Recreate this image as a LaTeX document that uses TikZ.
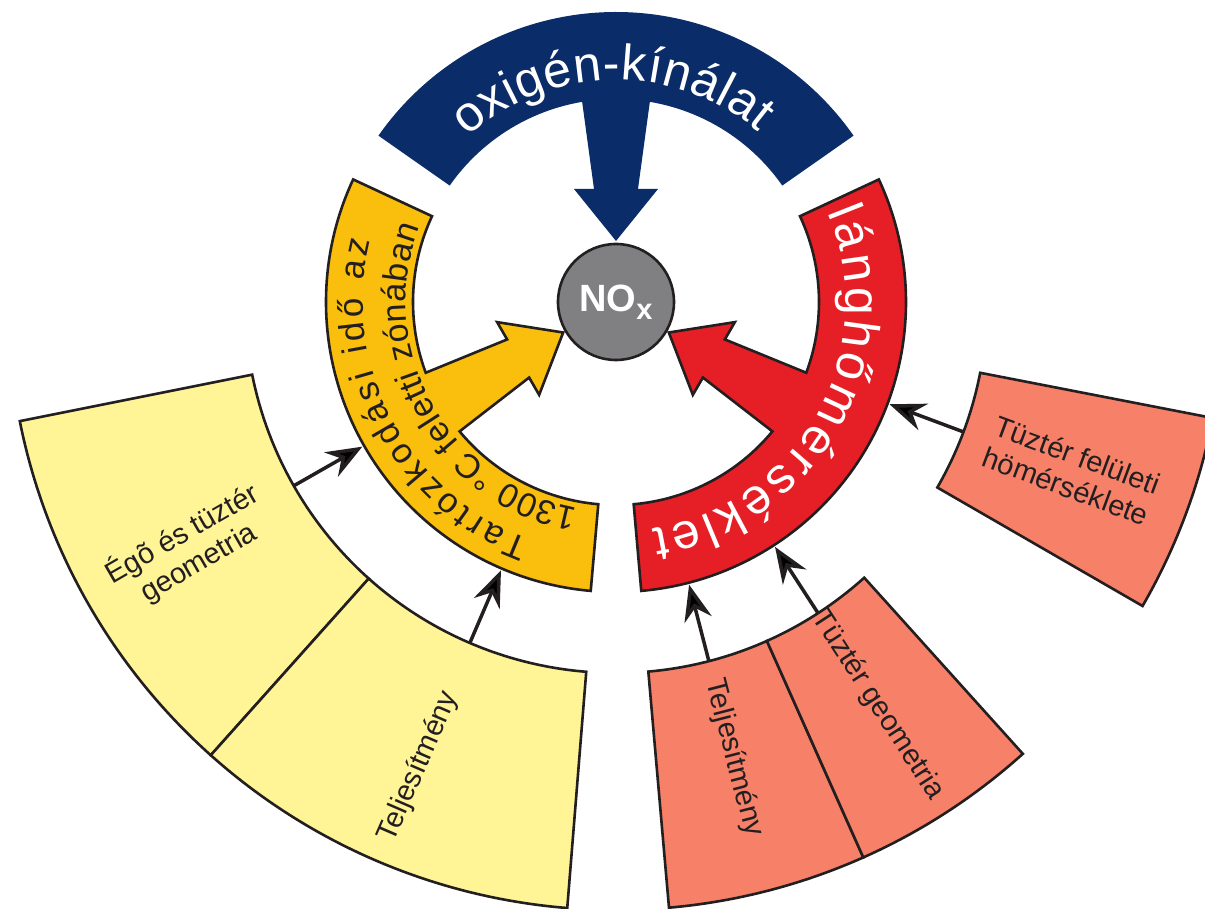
\documentclass[tikz,border=0pt]{standalone}
\usepackage{fontspec}
\setmainfont{Liberation Sans}
\usetikzlibrary{decorations.text,arrows.meta}
\definecolor{navyc}{RGB}{10,44,104}
\definecolor{goldc}{RGB}{250,190,12}
\definecolor{redc}{RGB}{230,30,37}
\definecolor{paley}{RGB}{255,245,150}
\definecolor{salmonc}{RGB}{246,128,104}
\definecolor{grayc}{RGB}{128,128,131}
\definecolor{linec}{RGB}{35,31,32}
\tikzset{
  arcarrow/.pic={
    \path[pic actions] (-55:290) arc[start angle=-55,end angle=55,radius=290]
      -- (55:203) arc[start angle=55,end angle=9.6,radius=203]
      -- (113,22) -- (113,42) -- (61,0) -- (113,-42) -- (113,-22)
      -- (-9.6:203) arc[start angle=-9.6,end angle=-55,radius=203] -- cycle;
  },
  outl/.style={draw=linec, line width=2.6pt, line join=miter},
  boxtxt/.style={font=\fontsize{29}{33}\selectfont, align=center, text=linec, inner sep=0pt},
  thinarrow/.style={draw=linec, line width=3.5pt,
    -{Stealth[length=36pt,width=28pt,inset=12pt]}},
}
\newcommand\annsec[3]{%
  \path[#3] (#1:371) arc[start angle=#1,end angle=#2,radius=371]
    -- (#2:608) arc[start angle=#2,end angle=#1,radius=608] -- cycle;}
\begin{document}
\begin{tikzpicture}[x=1pt,y=1pt]
\fill[white] (-616,-607) rectangle (589,302);
\useasboundingbox (-616,-607) rectangle (589,302);

% outer sectors
\annsec{191.3}{228.2}{fill=paley, outl}
\annsec{228.2}{265.4}{fill=paley, outl}
\annsec{-85}{-66}{fill=salmonc, outl}
\annsec{-66}{-48}{fill=salmonc, outl}
\annsec{-30}{-11}{fill=salmonc, outl}

% inner arc-arrows
\pic[rotate=90, fill=navyc] {arcarrow};
\pic[rotate=210, fill=goldc, outl] {arcarrow};
\pic[rotate=-30, fill=redc, outl] {arcarrow};

% NOx
\node[circle, fill=grayc, draw=linec, line width=2.6pt, minimum size=116pt,
      inner sep=0pt, text=white] (nox) at (0,0)
  {\bfseries\fontsize{38}{38}\selectfont NO\raisebox{-8pt}{\fontsize{29}{29}\selectfont x}};

% curved labels
\path[decorate, decoration={text along path, text align={fit to path}, text color=white,
  text={|\fontsize{50}{50}\selectfont|oxigén-kínálat}}]
  (132:222) arc[start angle=132,end angle=50,radius=222];
\path[decorate, decoration={text along path, text align={fit to path}, text color=white,
  text={|\fontsize{50}{50}\selectfont|lánghőmérséklet}}]
  (23:230) arc[start angle=23,end angle=-81,radius=230];
\path[decorate, decoration={text along path, text align={fit to path}, text color=linec,
  text={|\fontsize{35}{35}\selectfont|Tartózkodási idő az}}]
  (250:253) arc[start angle=250,end angle=166,radius=253];
\path[decorate, decoration={text along path, text align={fit to path}, text color=linec,
  text={|\fontsize{34}{34}\selectfont|1300 °C feletti zónában}}]
  (259.5:210) arc[start angle=259.5,end angle=159,radius=210];

% box labels
\node[boxtxt, rotate=30] (ygeo) at (210:492) {Égõ és tüztér\\geometria};
\node[boxtxt, rotate=66.6] (ytel) at (247:505) {Teljesítmény};
\node[boxtxt, rotate=-75.5] (stel) at (-75.5:471) {Teljesítmény};
\node[boxtxt, rotate=-57] (sgeo) at (-57:481) {Tüztér geometria};
\node[boxtxt, rotate=-20.3] (sfel) at (-20.3:486) {Tüztér felületi\\hömérséklete};

% connectors
\coordinate (a1s) at (209.7:371); \coordinate (a1e) at (209.7:292);
\coordinate (a2s) at (246.8:371); \coordinate (a2e) at (246.8:292);
\coordinate (a3s) at (-75.5:371); \coordinate (a3e) at (-75.5:292);
\coordinate (a4s) at (-57:371);   \coordinate (a4e) at (-57:292);
\coordinate (a5s) at (-20.5:371); \coordinate (a5e) at (-20.5:292);
\draw[thinarrow] (a1s) -- (a1e);
\draw[thinarrow] (a2s) -- (a2e);
\draw[thinarrow] (a3s) -- (a3e);
\draw[thinarrow] (a4s) -- (a4e);
\draw[thinarrow] (a5s) -- (a5e);
\end{tikzpicture}
\end{document}
